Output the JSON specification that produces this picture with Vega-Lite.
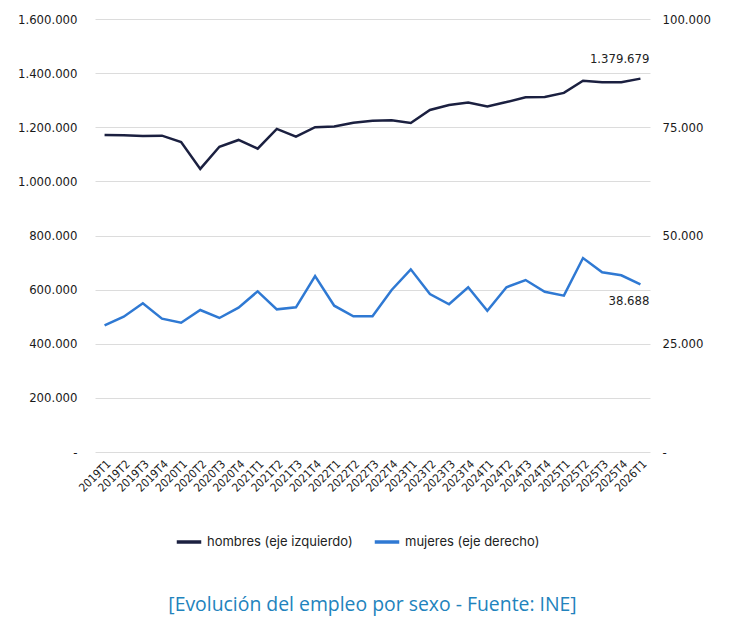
{
  "$schema": "https://vega.github.io/schema/vega-lite/v6.json",
  "width": 555,
  "height": 433,
  "autosize": "none",
  "padding": {"left": 95, "top": 19, "right": 101, "bottom": 175},
  "background": "white",
  "config": {
    "locale": {"number": {"decimal": ",", "thousands": ".", "grouping": [3], "currency": ["", " €"]}},
    "view": {"stroke": null},
    "axis": {
      "labelFont": "DejaVu Sans Condensed",
      "labelFontSize": 13,
      "labelColor": "#1a1a1a",
      "domain": false,
      "ticks": false,
      "title": null
    }
  },
  "data": {
    "values": [
      {"trimestre": "2019T1", "hombres": 1171000, "mujeres": 29260},
      {"trimestre": "2019T2", "hombres": 1170000, "mujeres": 31250},
      {"trimestre": "2019T3", "hombres": 1168000, "mujeres": 34340},
      {"trimestre": "2019T4", "hombres": 1169000, "mujeres": 30790},
      {"trimestre": "2020T1", "hombres": 1145000, "mujeres": 29860},
      {"trimestre": "2020T2", "hombres": 1046000, "mujeres": 32790},
      {"trimestre": "2020T3", "hombres": 1128000, "mujeres": 30950},
      {"trimestre": "2020T4", "hombres": 1153000, "mujeres": 33330},
      {"trimestre": "2021T1", "hombres": 1121000, "mujeres": 37110},
      {"trimestre": "2021T2", "hombres": 1194000, "mujeres": 32950},
      {"trimestre": "2021T3", "hombres": 1165000, "mujeres": 33420},
      {"trimestre": "2021T4", "hombres": 1200000, "mujeres": 40650},
      {"trimestre": "2022T1", "hombres": 1203000, "mujeres": 33790},
      {"trimestre": "2022T2", "hombres": 1217000, "mujeres": 31340},
      {"trimestre": "2022T3", "hombres": 1224000, "mujeres": 31340},
      {"trimestre": "2022T4", "hombres": 1226000, "mujeres": 37410},
      {"trimestre": "2023T1", "hombres": 1216000, "mujeres": 42190},
      {"trimestre": "2023T2", "hombres": 1264000, "mujeres": 36490},
      {"trimestre": "2023T3", "hombres": 1282000, "mujeres": 34110},
      {"trimestre": "2023T4", "hombres": 1291000, "mujeres": 38040},
      {"trimestre": "2024T1", "hombres": 1277000, "mujeres": 32630},
      {"trimestre": "2024T2", "hombres": 1293000, "mujeres": 38040},
      {"trimestre": "2024T3", "hombres": 1311000, "mujeres": 39720},
      {"trimestre": "2024T4", "hombres": 1312000, "mujeres": 37020},
      {"trimestre": "2025T1", "hombres": 1327000, "mujeres": 36100},
      {"trimestre": "2025T2", "hombres": 1372000, "mujeres": 44800},
      {"trimestre": "2025T3", "hombres": 1366000, "mujeres": 41500},
      {"trimestre": "2025T4", "hombres": 1366000, "mujeres": 40810},
      {"trimestre": "2026T1", "hombres": 1379679, "mujeres": 38688}
    ]
  },
  "title": {
    "text": "[Evolución del empleo por sexo - Fuente: INE]",
    "orient": "bottom",
    "anchor": "middle",
    "offset": 47,
    "font": "Open Sans",
    "fontSize": 19.4,
    "fontWeight": "normal",
    "color": "#2283bd"
  },
  "encoding": {
    "x": {
      "field": "trimestre",
      "type": "ordinal",
      "sort": null,
      "axis": {"labelAngle": -45, "labelFontSize": 11.5, "labelPadding": 6, "grid": false}
    }
  },
  "layer": [
    {
      "layer": [
        {
          "mark": {"type": "line", "strokeWidth": 2.5},
          "encoding": {
            "color": {
              "datum": "hombres (eje izquierdo)",
              "scale": {
                "domain": ["hombres (eje izquierdo)", "mujeres (eje derecho)"],
                "range": ["#1b2040", "#2f79d3"]
              },
              "legend": {
                "orient": "none",
                "direction": "horizontal",
                "legendX": 80,
                "legendY": 509,
                "title": null,
                "symbolType": "stroke",
                "symbolSize": 600,
                "symbolStrokeWidth": 3.5,
                "labelFont": "Inter",
                "labelFontSize": 13,
                "labelColor": "#222222",
                "columnPadding": 14
              }
            }
          }
        },
        {
          "transform": [{"filter": "datum.trimestre == '2026T1'"}],
          "mark": {"type": "text", "align": "right", "dx": 9, "dy": -20, "font": "DejaVu Sans Condensed", "fontSize": 13, "color": "#222222"},
          "encoding": {"text": {"field": "hombres", "type": "quantitative", "format": ",d"}}
        }
      ],
      "encoding": {
        "y": {
          "field": "hombres",
          "type": "quantitative",
          "scale": {"domain": [0, 1600000]},
          "axis": {
            "orient": "left",
            "values": [0, 200000, 400000, 600000, 800000, 1000000, 1200000, 1400000, 1600000],
            "format": ",d",
            "labelExpr": "datum.value == 0 ? '-' : datum.label",
            "labelPadding": 18,
            "gridColor": "#dcdcdc"
          }
        }
      }
    },
    {
      "layer": [
        {
          "mark": {"type": "line", "strokeWidth": 2.5},
          "encoding": {"color": {"datum": "mujeres (eje derecho)"}}
        },
        {
          "transform": [{"filter": "datum.trimestre == '2026T1'"}],
          "mark": {"type": "text", "align": "right", "dx": 9, "dy": 17, "font": "DejaVu Sans Condensed", "fontSize": 13, "color": "#222222"},
          "encoding": {"text": {"field": "mujeres", "type": "quantitative", "format": ",d"}}
        }
      ],
      "encoding": {
        "y": {
          "field": "mujeres",
          "type": "quantitative",
          "scale": {"domain": [0, 100000]},
          "axis": {
            "orient": "right",
            "values": [0, 25000, 50000, 75000, 100000],
            "format": ",d",
            "labelExpr": "datum.value == 0 ? '-' : datum.label",
            "labelPadding": 12,
            "grid": false
          }
        }
      }
    }
  ],
  "resolve": {"scale": {"y": "independent"}}
}
